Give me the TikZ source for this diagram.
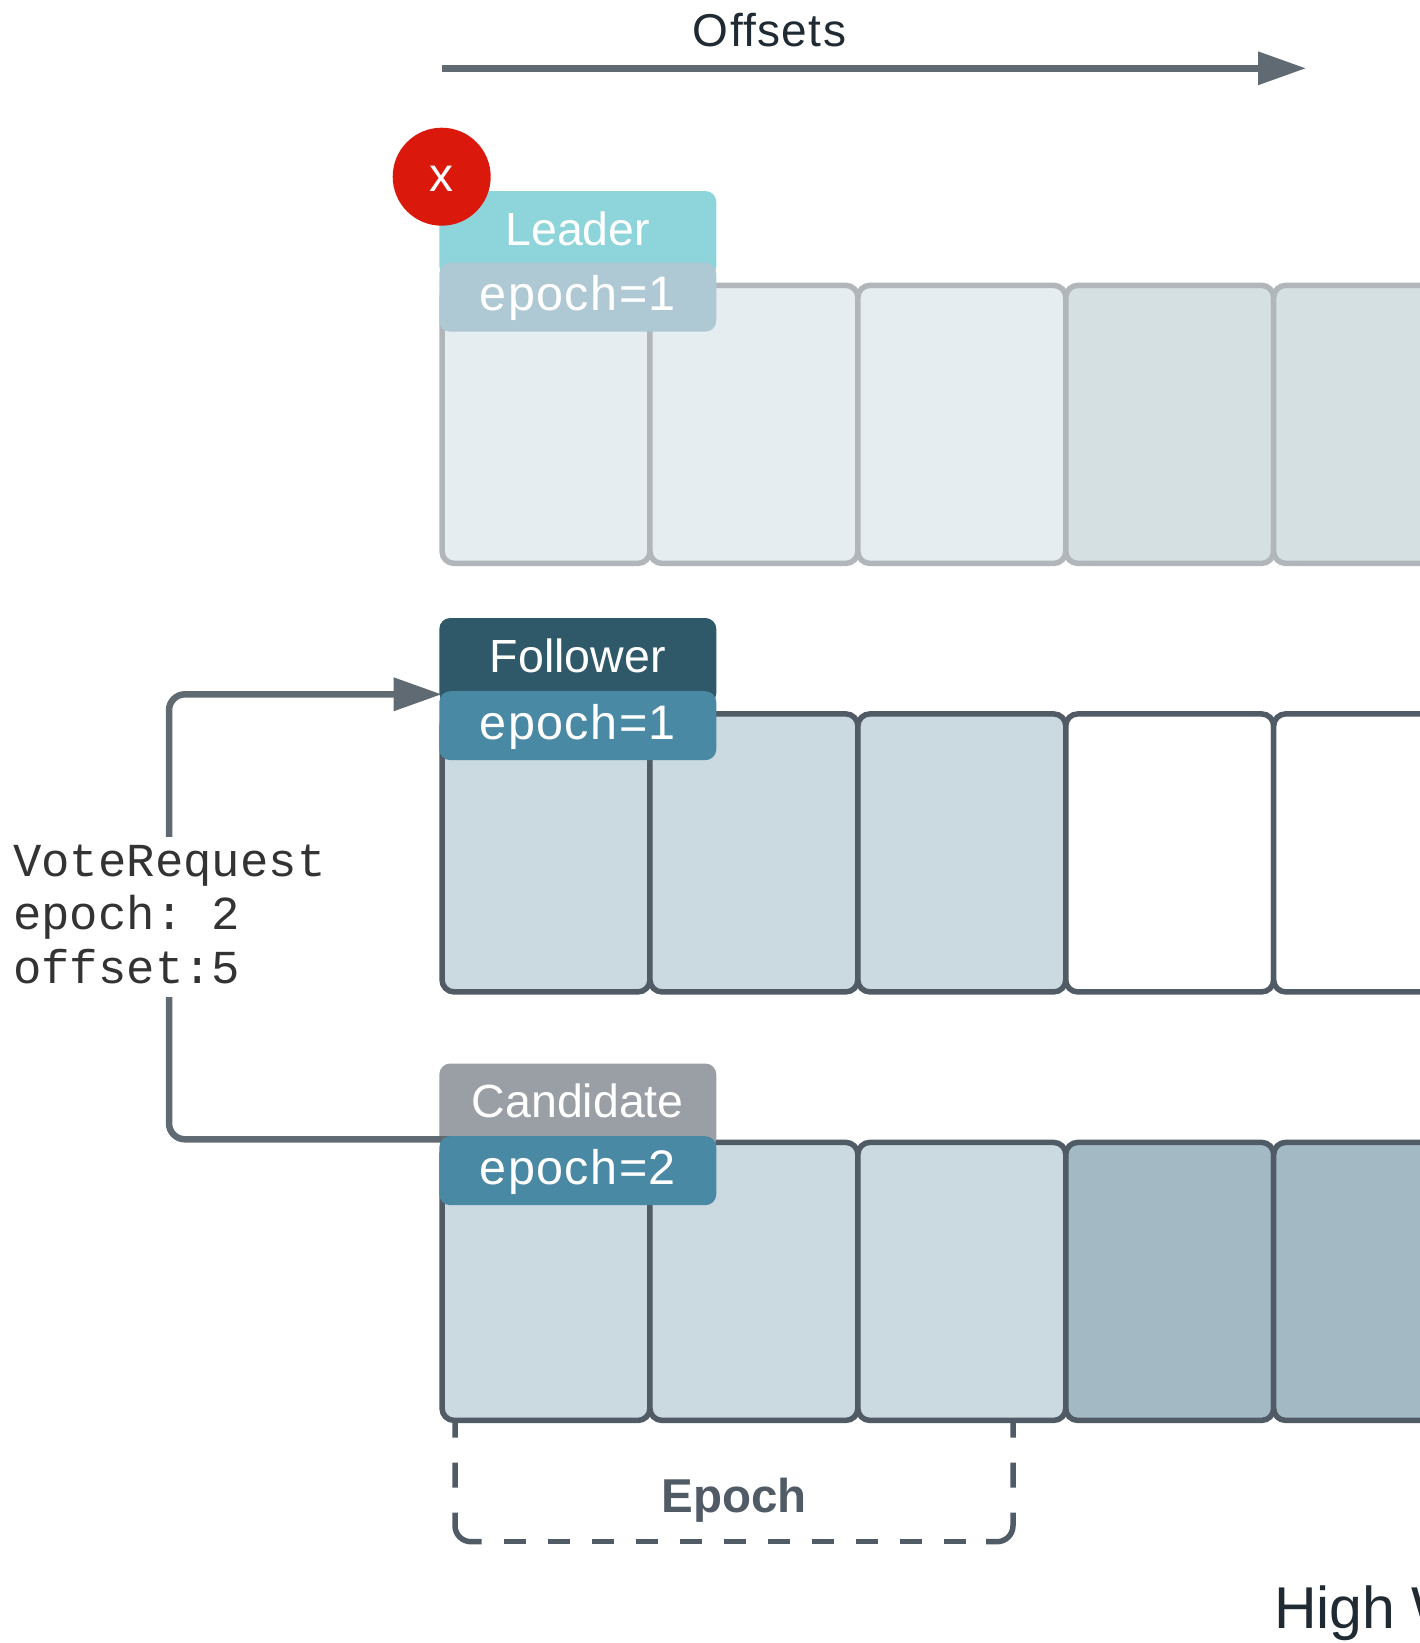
\documentclass[tikz,border=0pt]{standalone}
\usepackage{fontspec}
\setmainfont{Liberation Sans}
\setmonofont{Liberation Mono}
\newfontfamily\widefont[LetterSpace=3]{Liberation Sans}
\usepackage{tikz}
\usetikzlibrary{arrows.meta,positioning}
\definecolor{gridlight}{HTML}{B1B6BA}
\definecolor{griddark}{HTML}{505B65}
\definecolor{linegray}{HTML}{5F6A73}
\definecolor{inktext}{HTML}{1F2A33}
\definecolor{fadea}{HTML}{E6EDF0}
\definecolor{fadeb}{HTML}{D5E0E3}
\definecolor{cella}{HTML}{CBD9E0}
\definecolor{cellb}{HTML}{A3BAC5}
\definecolor{leadercol}{HTML}{8DD5DB}
\definecolor{leaderepcol}{HTML}{AFC9D4}
\definecolor{followercol}{HTML}{2F5869}
\definecolor{candidatecol}{HTML}{9A9EA5}
\definecolor{epblue}{HTML}{4A89A4}
\definecolor{failcol}{HTML}{DB180C}
\tikzstyle{cell}=
[
	rectangle
	,minimum width=207.9pt
	,minimum height=278pt
	,rounded corners=12pt
	,line width=5.5pt
	,draw=griddark
	,fill=white
]
\tikzstyle{faded}=
[
	cell
	,draw=gridlight
	,fill=fadea
]
\tikzstyle{tag}=
[
	rectangle
	,minimum width=277pt
	,rounded corners=11pt
	,inner sep=0pt
	,text=white
	,text height=54pt
	,text depth=32pt
	,font=\fontsize{46.5}{46.5}\selectfont
]
\tikzstyle{epochtag}=
[
	tag
	,text height=48pt
	,text depth=21pt
	,font=\widefont\fontsize{48.5}{48.5}\selectfont
]
\tikzstyle{arrow} = [line width=6.5pt,linegray,-{Triangle[length=48pt,width=32pt]}]
\tikzstyle{bracket} = [griddark,line width=5.5pt,rounded corners=16pt]
\begin{document}
\begin{tikzpicture}[x=1pt,y=-1pt,node distance=207.9pt]
\useasboundingbox (0,0) rectangle (1419,1643);
% first row
\node(a1)[faded] at (546,424.4){};
\node(a2)[faded,right of=a1]{};
\node(a3)[faded,right of=a2]{};
\node(a4)[faded,right of=a3,fill=fadeb]{};
\node(a5)[faded,right of=a4,fill=fadeb]{};
% second row
\node(b1)[cell,below of=a1,node distance=428.5pt,fill=cella]{};
\node(b2)[cell,right of=b1,fill=cella]{};
\node(b3)[cell,right of=b2,fill=cella]{};
\node(b4)[cell,right of=b3]{};
\node(b5)[cell,right of=b4]{};
% third row
\node(c1)[cell,below of=b1,node distance=428.5pt,fill=cella]{};
\node(c2)[cell,right of=c1,fill=cella]{};
\node(c3)[cell,right of=c2,fill=cella]{};
\node(c4)[cell,right of=c3,fill=cellb]{};
\node(c5)[cell,right of=c4,fill=cellb]{};

\node(leader)[tag,fill=leadercol] at (577.8,234){Leader};
\node(follower)[tag,fill=followercol] at (577.8,661){Follower};
\node(candidate)[tag,fill=candidatecol] at (577.8,1106.5){Candidate};

\coordinate(vstart) at (460,1139.3);
\coordinate(vbend) at (169,694.3);
\coordinate(vend) at (441.7,694.3);
\draw[arrow,rounded corners=16pt](vstart)-|(vbend)--(vend);

\node(leaderep)[epochtag,fill=leaderepcol] at (577.8,297.2){epoch=1};
\node(followerep)[epochtag,fill=epblue] at (577.8,725.7){epoch=1};
\node(candidateep)[epochtag,fill=epblue] at (577.8,1170.7){epoch=2};
\node(fail)[circle,minimum size=98pt,inner sep=0pt,fill=failcol,text=white,text height=30pt,text depth=0pt,font=\fontsize{48}{48}\selectfont] at (441.7,176.7){x};

\node(offsets)[anchor=base,text=inktext,font=\widefont\fontsize{46}{46}\selectfont] at (769.5,47){Offsets};
\coordinate(ostart) at (442,68.3);
\coordinate(oend) at (1306,68.3);
\draw[arrow](ostart)--(oend);

\node(vote)[anchor=north west,inner sep=0pt,minimum height=160pt,fill=white,align=left,text=black!80,font=\ttfamily\fontsize{47.3}{53.5}\selectfont] at (13,837){VoteRequest\\epoch: 2\\offset:5\rule[-6pt]{0pt}{6pt}};

\coordinate(eleft) at (455,1420);
\coordinate(eright) at (1013,1420);
\coordinate(ebl) at (481.7,1541.7);
\coordinate(ebr) at (986,1541.7);
\draw[bracket,dash pattern=on 17.7pt off 25pt on 25pt off 25pt on 200pt](eleft)|-(ebl);
\draw[bracket,dash pattern=on 17.7pt off 25pt on 25pt off 25pt on 200pt](eright)|-(ebr);
\draw[bracket,dash pattern=on 22pt off 22pt,dash phase=22pt](ebl)--(ebr);
\node(epoch)[anchor=base,text=griddark,font=\bfseries\fontsize{47.5}{47.5}\selectfont] at (734,1512.7){Epoch};
\node(high)[anchor=base west,inner sep=0pt,text=inktext,font=\fontsize{59}{59}\selectfont] at (1274,1628){High W};
\end{tikzpicture}
\end{document}
